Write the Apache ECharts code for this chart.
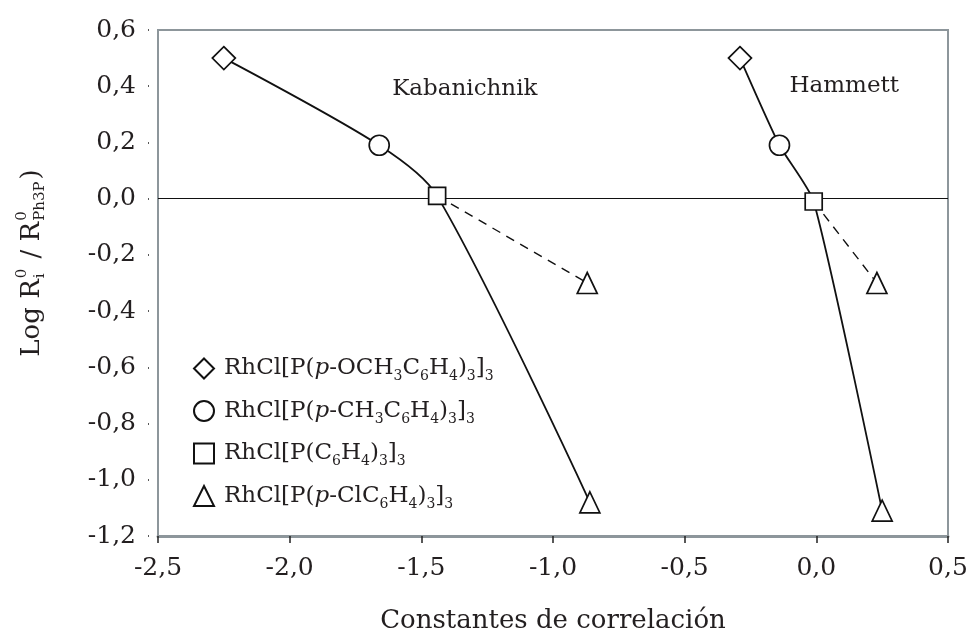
<!DOCTYPE html>
<html>
<head>
<meta charset="utf-8">
<script src="https://cdn.jsdelivr.net/npm/echarts@6/dist/echarts.min.js"></script>
<style>
  html, body { margin: 0; padding: 0; background: #ffffff; }
  #chart { width: 971px; height: 640px; }
</style>
</head>
<body>
<div id="chart"></div>
<script>
const FONT = 'DejaVu Serif';
const INK = '#231f20';
const FRAME = '#8d969b';

// Compounds (one marker shape each)
const compounds = [
  'RhCl[P(p-OCH3C6H4)3]3',
  'RhCl[P(p-CH3C6H4)3]3',
  'RhCl[P(C6H4)3]3',
  'RhCl[P(p-ClC6H4)3]3'
];
const legendLabels = [
  '{n|RhCl[P(}{i|p}{n|-OCH}{s|3}{n|C}{s|6}{n|H}{s|4}{n|)}{s|3}{n|]}{s|3}',
  '{n|RhCl[P(}{i|p}{n|-CH}{s|3}{n|C}{s|6}{n|H}{s|4}{n|)}{s|3}{n|]}{s|3}',
  '{n|RhCl[P(C}{s|6}{n|H}{s|4}{n|)}{s|3}{n|]}{s|3}',
  '{n|RhCl[P(}{i|p}{n|-ClC}{s|6}{n|H}{s|4}{n|)}{s|3}{n|]}{s|3}'
];
const symbols = ['diamond', 'circle', 'rect', 'triangle'];
const symbolSizes = [[23, 23], [20, 20], [17, 17], [20, 21]];

// Kabanichnik constants and log ratios
const kabX = [-2.25, -1.66, -1.44, -0.87];
const kabY = [0.50, 0.19, 0.01, -0.30];
// Hammett constants and log ratios
const hamX = [-0.29, -0.14, -0.01, 0.23];
const hamY = [0.50, 0.19, -0.01, -0.30];
// p-Cl complex on the steep (solid) branch: [Kabanichnik, Hammett]
const clX = [-0.86, 0.25];
const clY = [-1.08, -1.11];

// Axis ticks
const xTickValues = [-2.5, -2.0, -1.5, -1.0, -0.5, 0.0, 0.5];
const xTickLabels = ['-2,5', '-2,0', '-1,5', '-1,0', '-0,5', '0,0', '0,5'];
const yTickValues = [-1.2, -1.0, -0.8, -0.6, -0.4, -0.2, 0.0, 0.2, 0.4, 0.6];
const yTickLabels = ['-1,2', '-1,0', '-0,8', '-0,6', '-0,4', '-0,2', '0,0', '0,2', '0,4', '0,6'];

const annotations = [
  { text: 'Kabanichnik', x: -1.335, y: 0.39 },
  { text: 'Hammett', x: 0.106, y: 0.40 }
];

function tickLabel(values, labels) {
  return v => {
    const i = values.findIndex(t => Math.abs(t - v) < 1e-6);
    return i >= 0 ? labels[i] : '';
  };
}

const chart = echarts.init(document.getElementById('chart'), null, { renderer: 'canvas' });

const lineBase = {
  type: 'line',
  showSymbol: false,
  symbol: 'none',
  silent: true,
  z: 2,
  lineStyle: { color: '#111', width: 1.8 }
};

const series = [
  Object.assign({}, lineBase, {
    name: 'kab-solid',
    smooth: 0.3,
    data: [[kabX[0], kabY[0]], [kabX[1], kabY[1]], [kabX[2], kabY[2]], [clX[0], clY[0]]],
    markLine: {
      silent: true,
      symbol: 'none',
      label: { show: false },
      lineStyle: { color: '#111', width: 1, type: 'solid' },
      data: [{ yAxis: 0 }]
    }
  }),
  Object.assign({}, lineBase, {
    name: 'kab-dash',
    data: [[kabX[2], kabY[2]], [kabX[3], kabY[3]]],
    lineStyle: { color: '#111', width: 1.4, type: [9, 7] }
  }),
  Object.assign({}, lineBase, {
    name: 'ham-solid',
    smooth: 0.2,
    data: [[hamX[0], hamY[0]], [hamX[1], hamY[1]], [hamX[2], hamY[2]], [clX[1], clY[1]]]
  }),
  Object.assign({}, lineBase, {
    name: 'ham-dash',
    data: [[hamX[2], hamY[2]], [hamX[3], hamY[3]]],
    lineStyle: { color: '#111', width: 1.4, type: [9, 7] }
  })
];

compounds.forEach((name, i) => {
  const pts = [[kabX[i], kabY[i]], [hamX[i], hamY[i]]];
  if (i === 3) { pts.push([clX[0], clY[0]], [clX[1], clY[1]]); }
  series.push({
    name: name,
    type: 'scatter',
    symbol: symbols[i],
    symbolSize: symbolSizes[i],
    z: 5,
    itemStyle: { color: '#ffffff', borderColor: '#111', borderWidth: 1.7, opacity: 1 },
    data: pts
  });
});

const richText = {
  n: { fontFamily: FONT, fontSize: 23, color: INK, lineHeight: 30 },
  i: { fontFamily: FONT, fontSize: 23, color: INK, lineHeight: 30, fontStyle: 'italic' },
  s: { fontFamily: FONT, fontSize: 14, color: INK, lineHeight: 14, verticalAlign: 'bottom' }
};

chart.setOption({
  animation: false,
  backgroundColor: '#ffffff',
  grid: {
    left: 158, right: 23, top: 30, bottom: 104,
    show: true, borderColor: FRAME, borderWidth: 2, backgroundColor: '#ffffff'
  },
  xAxis: {
    type: 'value',
    min: -2.5, max: 0.5, interval: 0.5,
    axisLine: { show: true, onZero: false, lineStyle: { color: FRAME, width: 3 } },
    axisTick: { show: true, length: 7, lineStyle: { color: '#222', width: 1.5 } },
    splitLine: { show: false },
    axisLabel: {
      fontFamily: FONT, fontSize: 25, color: INK, margin: 20,
      formatter: tickLabel(xTickValues, xTickLabels)
    },
    name: 'Constantes de correlación',
    nameLocation: 'middle',
    nameGap: 72,
    nameTextStyle: { fontFamily: FONT, fontSize: 26, color: INK }
  },
  yAxis: {
    type: 'value',
    min: -1.2, max: 0.6, interval: 0.2,
    axisLine: { show: true, onZero: false, lineStyle: { color: FRAME, width: 2 } },
    axisTick: { show: true, length: 10, lineStyle: { color: '#222', width: 1.5, type: [0, 9, 1, 0] } },
    splitLine: { show: false },
    axisLabel: {
      fontFamily: FONT, fontSize: 25, color: INK, margin: 22,
      formatter: tickLabel(yTickValues, yTickLabels)
    }
  },
  legend: {
    orient: 'vertical',
    left: 188,
    top: 352,
    itemWidth: 20,
    itemHeight: 20,
    itemGap: 16,
    selectedMode: false,
    data: compounds,
    formatter: name => legendLabels[compounds.indexOf(name)],
    textStyle: { padding: [0, 0, 0, 5], rich: richText }
  },
  series: series
});

// Rotated y-axis title with stacked super/subscripts
const measureCtx = document.createElement('canvas').getContext('2d');
function textWidth(str, size) {
  measureCtx.font = size + 'px "' + FONT + '"';
  return measureCtx.measureText(str).width;
}
const BIG = 26, SMALL = 15;
const titleParts = [
  { main: 'Log R' },
  { sup: '0', sub: 'i' },
  { main: ' / R' },
  { sup: '0', sub: 'Ph3P' },
  { main: ')' }
];
const titleChildren = [];
let cursor = 0;
titleParts.forEach(p => {
  if (p.main) {
    titleChildren.push({ type: 'text', x: cursor, y: 0,
      style: { text: p.main, font: BIG + 'px "' + FONT + '"', fill: INK, verticalAlign: 'middle', align: 'left' } });
    cursor += textWidth(p.main, BIG);
  } else {
    titleChildren.push({ type: 'text', x: cursor + 1, y: -10,
      style: { text: p.sup, font: SMALL + 'px "' + FONT + '"', fill: INK, verticalAlign: 'middle', align: 'left' } });
    titleChildren.push({ type: 'text', x: cursor + 1, y: 8,
      style: { text: p.sub, font: SMALL + 'px "' + FONT + '"', fill: INK, verticalAlign: 'middle', align: 'left' } });
    cursor += Math.max(textWidth(p.sup, SMALL), textWidth(p.sub, SMALL)) + 3;
  }
});
titleChildren.forEach(c => { c.x -= cursor / 2; });

const graphics = [{
  type: 'group',
  x: 32, y: 263,
  rotation: Math.PI / 2,
  children: titleChildren
}];

annotations.forEach(a => {
  const p = chart.convertToPixel({ gridIndex: 0 }, [a.x, a.y]);
  graphics.push({
    type: 'text', x: p[0], y: p[1],
    style: { text: a.text, font: '23px "' + FONT + '"', fill: INK, align: 'center', verticalAlign: 'middle' }
  });
});

chart.setOption({ graphic: graphics });
</script>
</body>
</html>
